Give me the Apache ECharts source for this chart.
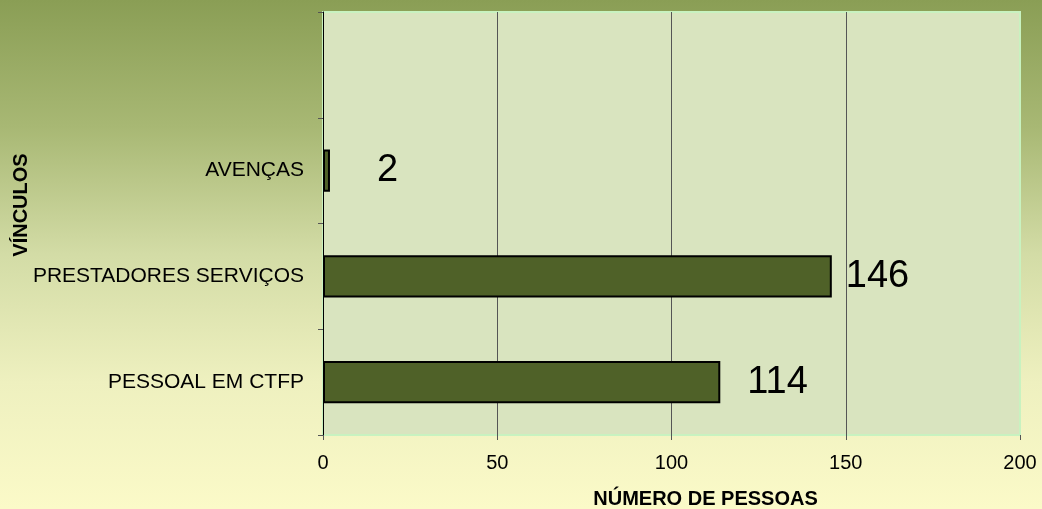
<!DOCTYPE html>
<html>
<head>
<meta charset="utf-8">
<script src="https://cdn.jsdelivr.net/npm/echarts@6/dist/echarts.min.js"></script>
<style>
  html, body { margin: 0; padding: 0; }
  #chart {
    width: 1042px;
    height: 509px;
    background: linear-gradient(to bottom, #8a9e55 0%, #a8b874 25%, #d3dca6 50%, #eef0bf 75%, #fbfac8 100%);
  }
</style>
</head>
<body>
<div id="chart"></div>
<script>
// categories from bottom to top (top slot is empty in the original)
const categories = ['PESSOAL EM CTFP', 'PRESTADORES SERVIÇOS', 'AVENÇAS', '']
const values = [114, 146, 2, null]
const xTicks = [0, 50, 100, 150, 200]

// label gaps as placed in the original chart
const labelGap = [27, 14, 47, 0]
const font = 'Liberation Sans, Arial, sans-serif'

const chart = echarts.init(document.getElementById('chart'))
chart.setOption({
  animation: false,
  grid: {
    left: 323,
    right: 22,
    top: 12,
    bottom: 74,
    containLabel: false,
    outerBoundsMode: 'none',
    show: true,
    backgroundColor: '#d9e4bf',
    borderColor: '#c8f2c0',
    borderWidth: 2
  },
  xAxis: {
    type: 'value',
    min: xTicks[0],
    max: xTicks[xTicks.length - 1],
    interval: xTicks[1] - xTicks[0],
    name: 'NÚMERO DE PESSOAS',
    nameLocation: 'middle',
    nameGap: 54,
    nameMoveOverlap: false,
    nameTextStyle: {
      color: '#000',
      fontFamily: font,
      fontWeight: 'bold',
      fontSize: 20,
      padding: [0, 0, 0, 68]
    },
    axisLine: { lineStyle: { color: '#000', width: 1 } },
    axisTick: { show: true, length: 5, lineStyle: { color: '#555' } },
    axisLabel: {
      color: '#000',
      fontFamily: font,
      fontSize: 20,
      margin: 18
    },
    splitLine: {
      show: true,
      showMinLine: false,
      showMaxLine: false,
      lineStyle: { color: '#555', width: 1 }
    }
  },
  yAxis: {
    type: 'category',
    data: categories,
    name: 'VÍNCULOS',
    nameLocation: 'middle',
    nameGap: 292,
    nameRotate: 90,
    nameMoveOverlap: false,
    nameTextStyle: {
      color: '#000',
      fontFamily: font,
      fontWeight: 'bold',
      fontSize: 20,
      padding: [0, 0, 0, 37]
    },
    axisLine: { lineStyle: { color: '#000', width: 1 } },
    axisTick: { show: true, length: 5, lineStyle: { color: '#555' } },
    axisLabel: {
      color: '#000',
      fontFamily: font,
      fontSize: 21,
      margin: 19
    },
    splitLine: { show: false }
  },
  series: [{
    type: 'bar',
    barWidth: '40%',
    itemStyle: {
      color: '#4f6128',
      borderColor: '#000',
      borderWidth: 2
    },
    label: {
      show: true,
      position: 'right',
      color: '#000',
      fontFamily: font,
      fontSize: 38
    },
    data: values.map((v, i) => ({
      value: v,
      label: { distance: labelGap[i] }
    }))
  }]
})
</script>
</body>
</html>
